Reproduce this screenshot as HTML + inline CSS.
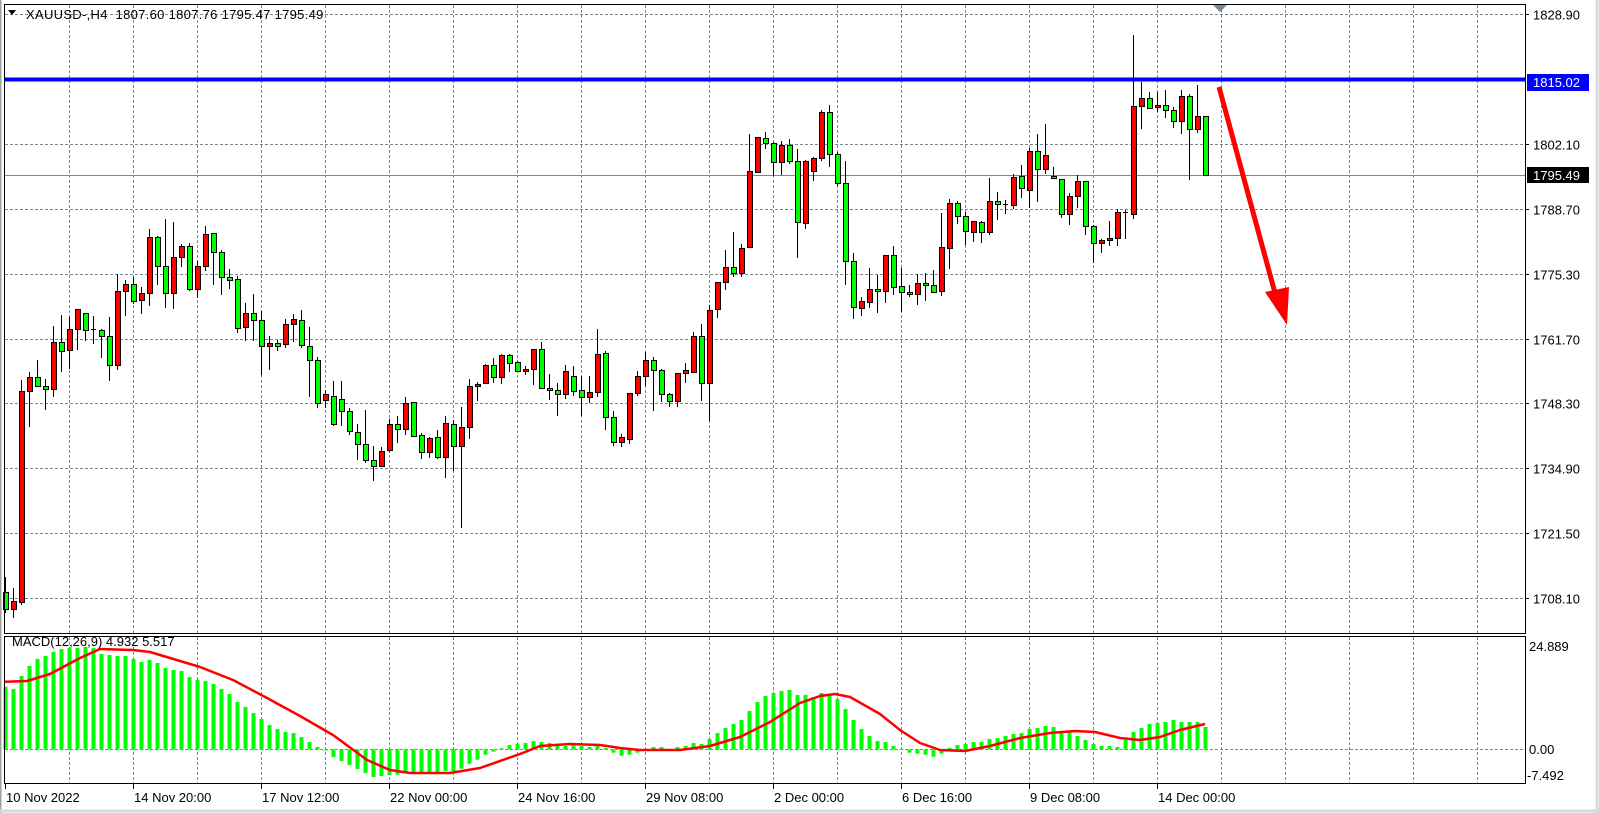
<!DOCTYPE html>
<html><head><meta charset="utf-8"><style>
html,body{margin:0;padding:0;background:#fff;}
svg{display:block;font-family:"Liberation Sans",sans-serif;}
</style></head><body>
<svg id="s" width="1599" height="813" xmlns="http://www.w3.org/2000/svg">
<rect x="0" y="0" width="1599" height="813" fill="#fff"/>
<g id="grid"></g>
<line x1="4" y1="175.5" x2="1525" y2="175.5" stroke="#778899" stroke-width="1"/>
<rect x="4" y="77.5" width="1521" height="4" fill="#0000ff"/>
<g id="macd"></g>
<g id="candles"></g>
<polygon points="1212,4 1228,4 1220,12" fill="#778899"/>
<line x1="1219" y1="87" x2="1275" y2="293" stroke="#ff0000" stroke-width="5"/>
<polygon points="1265,292 1289,287 1287,325" fill="#ff0000"/>
<rect x="4.5" y="4.5" width="1521" height="629" fill="none" stroke="#000" stroke-width="1"/>
<rect x="4.5" y="636.5" width="1521" height="147" fill="none" stroke="#000" stroke-width="1"/>
<line x1="0" y1="0" x2="0" y2="813" stroke="#a0a0a0" stroke-width="3"/>
<line x1="1597" y1="0" x2="1597" y2="813" stroke="#d8d8d8" stroke-width="3"/>
<line x1="0" y1="811" x2="1599" y2="811" stroke="#d8d8d8" stroke-width="3"/>
<polygon points="8,10 16,10 12,15" fill="#000"/>
<text x="26" y="19" font-size="13" letter-spacing="0.3" fill="#000" xml:space="preserve">XAUUSD-,H4  1807.60 1807.76 1795.47 1795.49</text>
<text x="12" y="646" font-size="13" fill="#000">MACD(12,26,9) 4.932 5.517</text>
<g id="labels" font-size="13" fill="#000"></g>
<rect x="1527" y="74" width="62" height="17" fill="#0000ff"/>
<text x="1533" y="87" font-size="13" fill="#fff">1815.02</text>
<rect x="1527" y="167" width="62" height="16" fill="#000"/>
<text x="1533" y="180" font-size="13" fill="#fff">1795.49</text>
</svg>
<script>
var NS="http://www.w3.org/2000/svg";
function el(p,t,a,txt){var e=document.createElementNS(NS,t);for(var k in a)e.setAttribute(k,a[k]);if(txt!==undefined)e.textContent=txt;document.getElementById(p).appendChild(e);return e;}
var gc="#778899";
for(var k=1;k<=23;k++){var x=5+64*k+0.5;
 el("grid","line",{x1:x,y1:5,x2:x,y2:633,stroke:gc,"stroke-dasharray":"3,2","stroke-width":1});
 el("grid","line",{x1:x,y1:637,x2:x,y2:783,stroke:gc,"stroke-dasharray":"3,2","stroke-width":1});}
var pl=["1828.90","1815.50","1802.10","1788.70","1775.30","1761.70","1748.30","1734.90","1721.50","1708.10"];
for(var i=0;i<10;i++){var y=Math.round(14+64.9*i)+0.5;
 el("grid","line",{x1:5,y1:y,x2:1525,y2:y,stroke:gc,"stroke-dasharray":"3,2","stroke-width":1});
 if(i!=1){el("labels","line",{x1:1525,y1:y,x2:1529,y2:y,stroke:"#000"});el("labels","text",{x:1533,y:y+5},pl[i]);}}
el("grid","line",{x1:5,y1:749.5,x2:1525,y2:749.5,stroke:gc,"stroke-dasharray":"3,2","stroke-width":1});
el("labels","text",{x:1529,y:651},"24.889");
el("labels","text",{x:1529,y:754},"0.00");
el("labels","text",{x:1527,y:780},"-7.492");
var tl=["10 Nov 2022","14 Nov 20:00","17 Nov 12:00","22 Nov 00:00","24 Nov 16:00","29 Nov 08:00","2 Dec 00:00","6 Dec 16:00","9 Dec 08:00","14 Dec 00:00"];
for(var i=0;i<tl.length;i++){var x=(i==0?5:5+128*i);el("labels","line",{x1:x+0.5,y1:784,x2:x+0.5,y2:789,stroke:"#000"});el("labels","text",{x:x+1,y:802},tl[i]);}
var z4=[[1190,1237,1288,1300,'G'],[1225,1263,1288,1315,'R'],[600,634,1265,1275,'R'],[577,590,634,740,'R'],[540,590,617,620,'G'],[598,619,628,690,'G'],[437,487,628,650,'R'],[405,487,514,575,'G'],[412,448,511,567,'R'],[388,388,448,510,'R'],[400,400,451,482,'G'],[408,448,452,492,'D'],[448,451,469,533,'G'],[410,469,556,602,'G'],[283,334,556,570,'R'],[300,313,334,407,'R'],[292,313,364,372,'G'],[322,340,361,402,'R'],[148,172,340,377,'R'],[168,172,257,315,'G'],[117,257,340,383,'G'],[127,232,340,386,'R'],[193,199,232,261,'R'],[188,199,328,332,'G'],[244,259,328,355,'R'],[138,163,259,272,'R'],[160,160,217,315,'G'],[210,217,292,345,'G'],[267,292,301,327,'G'],[288,298,444,459,'G'],[369,400,442,482,'R'],[342,400,421,482,'G'],[392,421,499,585,'G'],[468,490,499,570,'R'],[480,490,499,513,'G'],[418,433,493,503,'R'],[402,418,433,486,'R'],[390,421,496,503,'G']];
var z5=[[82,139,181,290,'G'],[172,181,310,323,'G'],[270,283,301,325,'R'],[243,289,371,377,'G'],[243,298,334,377,'G'],[325,334,394,404,'G'],[373,397,433,480,'G'],[330,433,481,490,'G'],[438,481,499,542,'G'],[440,454,499,499,'R'],[358,373,451,455,'R'],[348,373,388,428,'G'],[292,310,388,404,'R'],[307,307,407,410,'G'],[400,406,457,476,'G'],[410,415,457,473,'R'],[390,412,472,478,'G'],[348,370,472,533,'R'],[360,373,439,512,'G'],[320,382,439,684,'R'],[237,259,382,416,'R'],[247,253,259,302,'R'],[192,196,250,253,'R'],[175,196,232,248,'G'],[162,166,232,251,'R'],[162,166,190,215,'G'],[183,187,214,215,'G'],[198,208,214,224,'R'],[148,148,208,254,'R'],[126,148,264,267,'G'],[222,265,271,300,'G'],[249,271,283,347,'G'],[195,214,283,296,'R'],[198,229,274,287,'G'],[228,271,292,347,'G'],[228,277,292,310,'R'],[87,163,277,290,'R'],[153,160,352,389,'G'],[333,352,427,437,'G'],[403,412,427,440,'R'],[280,280,418,431,'R'],[213,229,280,287,'R'],[157,181,229,257,'R'],[172,181,211,332,'G'],[208,211,283,305,'G'],[280,283,304,320,'G'],[220,220,304,320,'R'],[189,211,220,248,'R'],[97,109,215,218,'R'],[72,109,250,302,'G'],[15,31,250,362,'R']];
var z6=[[577,577,658,683,'R'],[480,532,577,600,'R'],[426,532,548,560,'G'],[462,475,548,560,'R'],[132,244,472,472,'R'],[142,142,245,248,'R'],[126,145,160,176,'G'],[155,160,217,257,'G'],[153,166,217,254,'R'],[147,166,214,222,'G'],[178,214,397,503,'G'],[210,214,400,416,'R'],[200,205,244,272,'R'],[60,67,205,212,'R'],[45,67,193,230,'G'],[185,193,280,287,'G'],[213,280,512,584,'G'],[489,512,652,688,'G'],[620,634,655,677,'R'],[534,598,636,654,'R'],[555,598,604,668,'G'],[496,496,604,638,'R'],[468,496,592,616,'G'],[535,589,607,667,'G'],[585,606,613,622,'G'],[552,580,613,646,'R'],[550,580,586,632,'G'],[540,586,607,610,'G'],[370,472,604,617,'R'],[327,340,475,536,'R']];
var z7=[[543,550,589,612,'G'],[575,589,634,676,'G'],[602,604,637,666,'R'],[604,607,637,668,'G'],[474,544,637,644,'R'],[516,544,553,600,'G'],[541,553,556,582,'D'],[462,472,556,568,'R'],[435,468,505,533,'G'],[384,394,509,565,'R'],[342,394,448,545,'G'],[312,406,448,461,'R'],[441,468,475,478,'G'],[478,478,583,593,'G'],[518,529,583,614,'R'],[465,484,529,563,'R'],[484,484,619,646,'G'],[615,619,670,730,'G'],[658,661,670,698,'R'],[603,655,661,677,'R'],[566,577,655,677,'R'],[569,577,580,656,'D'],[45,259,583,596,'R'],[185,235,259,326,'R'],[215,235,265,265,'G'],[215,256,262,275,'R'],[210,256,271,293,'G'],[262,271,304,325,'G'],[210,229,304,341,'R'],[222,229,328,479,'G'],[195,289,328,340,'R'],[289,289,466,466,'G']];
var C=[];
function add(arr,off){arr.forEach(function(c){C.push([off+c[0]/3,off+c[1]/3,off+c[2]/3,off+c[3]/3,c[4]]);});}
add(z4,180);add(z5,300);add(z6,90);add(z7,20);
C.forEach(function(c,i){var x=Math.round(5.4+8*i);
 el("candles","line",{x1:x+0.5,y1:Math.round(c[0]),x2:x+0.5,y2:Math.round(c[3]),stroke:"#000","stroke-width":1});
 var t=Math.round(c[1]),b=Math.round(c[2]);
 if(c[4]=='D'||b-t<1){el("candles","line",{x1:x-2,y1:t+0.5,x2:x+3,y2:t+0.5,stroke:"#000"});}
 else el("candles","rect",{x:x-2+0.5,y:t+0.5,width:5,height:b-t,fill:c[4]=='R'?"#ff0000":"#00ff00",stroke:"#000","stroke-width":1});
});
var H=[686.7,689,676,666,659,656,652,649,648,648,647,648,654,655,656,656,659,662,660,663,668,670,671,677,680,681,684,689,694,702,707,713,719,725,729,732,733,737,742,747,750,757,761,765,769,773,777,776,775,774.7,772.7,772.7,772.7,772.7,772,771,771,768.7,763.7,759.7,754.7,751.7,748.3,745,743.7,743,741,742,743,746,746,745.3,746,747,746,748,752.7,755.7,754.7,752.7,749.3,747,747,749.3,747,746,743,744,739,733,728,724,720,711,702,696,693,691,690,695,695,697,693,695,699,709,720,729,736,741,742,746,748.7,752.7,753.7,754.7,756.7,753.7,748,745,744,742,742,739,738,736,734,733,729,728,726,727,732,732,736,740,744,746,746,747,740,732,728,724,723,722,720,722,722,722,727];
H.forEach(function(h,i){var x=Math.round(5.4+8*i)-1.5;var z=749.5;var t=Math.min(h,z),b=Math.max(h,z);if(b-t<0.8)b=t+1;
 el("macd","rect",{x:x,y:t,width:4,height:b-t,fill:"#00ff00"});});
var S=[[5,681.7],[27,681],[50,674],[80,658],[100,649],[133,650],[150,652],[200,667],[233,680],[267,698],[300,716],[333,735],[367,760],[390,770],[410,773],[450,773],[480,768],[520,754],[540,746],[570,744],[600,745],[620,748],[640,750],[680,750],[710,746],[740,737],[770,722],[800,703],[820,696],[835,694],[850,697],[880,714],[900,730],[920,743],[940,750],[965,751],[990,746],[1020,738],[1050,733],[1075,731],[1095,732],[1120,738],[1140,740],[1160,737],[1180,730],[1205,724]];
el("macd","polyline",{points:S.map(function(p){return p[0]+","+p[1];}).join(" "),fill:"none",stroke:"#ff0000","stroke-width":2.5,"stroke-linejoin":"round"});
</script>
</body></html>
